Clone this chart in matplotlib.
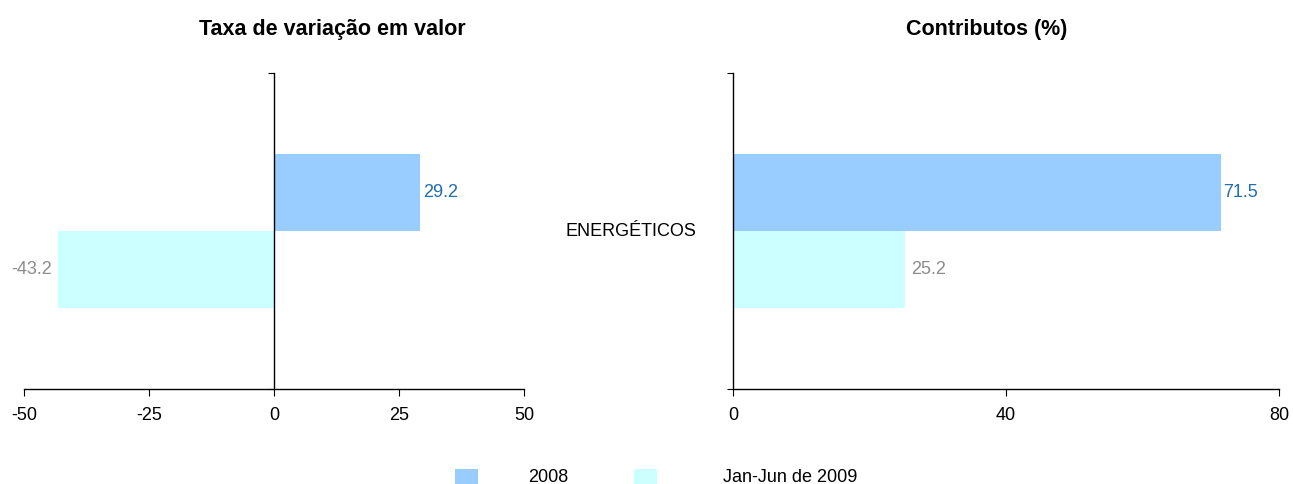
import matplotlib
matplotlib.use("Agg")
import matplotlib.pyplot as plt
from matplotlib.patches import Rectangle

plt.rcParams['font.family'] = ['Liberation Sans', 'DejaVu Sans']

category = "ENERGÉTICOS"
series = ["2008", "Jan-Jun de 2009"]
taxa = [29.2, -43.2]
contributos = [71.5, 25.2]
colors = ["#99CCFF", "#CCFFFF"]
label_colors = ["#1F6DB3", "#8C8C8C"]

FS = 13
TFS = 15.5

W, H = 1293, 484
fig = plt.figure(figsize=(W / 100, H / 100), dpi=100)

def fx(px):
    return px / W

def fy(py):
    return 1 - py / H

ax1 = fig.add_axes([fx(24), fy(389), fx(524) - fx(24), fy(73) - fy(389)])
ax2 = fig.add_axes([fx(733), fy(389), fx(1279) - fx(733), fy(73) - fy(389)])

ypos = [0.122, -0.122]
bh = 0.244

for ax, vals, xlim, xticks in [(ax1, taxa, (-50, 50), [-50, -25, 0, 25, 50]),
                               (ax2, contributos, (0, 80), [0, 40, 80])]:
    for v, y, c in zip(vals, ypos, colors):
        ax.barh(y, v, height=bh, color=c, edgecolor='none', zorder=1)
    ax.set_xlim(*xlim)
    ax.set_ylim(-0.5, 0.5)
    ax.set_xticks(xticks)
    ax.set_xticklabels([str(t) for t in xticks])
    ax.set_yticks([-0.5, 0.5])
    ax.set_yticklabels([])
    ax.spines['top'].set_visible(False)
    ax.spines['right'].set_visible(False)
    ax.spines['left'].set_position(('data', 0))
    ax.spines['left'].set_zorder(3)
    ax.tick_params(axis='x', direction='out', length=5, labelsize=FS, pad=8, colors='black')
    ax.tick_params(axis='y', direction='out', length=4)
    for s in ['left', 'bottom']:
        ax.spines[s].set_linewidth(1)

# value labels
ax1.annotate(f"{taxa[0]:.1f}", (taxa[0], ypos[0]), xytext=(2, 0), textcoords='offset points',
             ha='left', va='center', fontsize=FS, color=label_colors[0])
ax1.annotate(f"{taxa[1]:.1f}", (taxa[1], ypos[1]), xytext=(-4, 0), textcoords='offset points',
             ha='right', va='center', fontsize=FS, color=label_colors[1])
ax2.annotate(f"{contributos[0]:.1f}", (contributos[0], ypos[0]), xytext=(1.5, 0), textcoords='offset points',
             ha='left', va='center', fontsize=FS, color=label_colors[0])
ax2.annotate(f"{contributos[1]:.1f}", (contributos[1], ypos[1]), xytext=(4.5, 0), textcoords='offset points',
             ha='left', va='center', fontsize=FS, color=label_colors[1])

ax2.text(-37 / 546, 0.5, category, transform=ax2.transAxes, ha='right', va='center', fontsize=FS)

fig.text(fx(332), fy(29.5), "Taxa de variação em valor", ha='center', va='center', fontsize=TFS, fontweight='bold')
fig.text(fx(987), fy(29.5), "Contributos (%)", ha='center', va='center', fontsize=TFS, fontweight='bold')

# legend
for (x0, tx), lab, c in zip([(455, 548), (634, 790)], series, colors):
    fig.add_artist(Rectangle((fx(x0), fy(484)), fx(23), fy(469) - fy(484), transform=fig.transFigure,
                             facecolor=c, edgecolor='none'))
    fig.text(fx(tx), fy(477), lab, ha='center', va='center', fontsize=FS)

fig.savefig("out.png", dpi=100)
